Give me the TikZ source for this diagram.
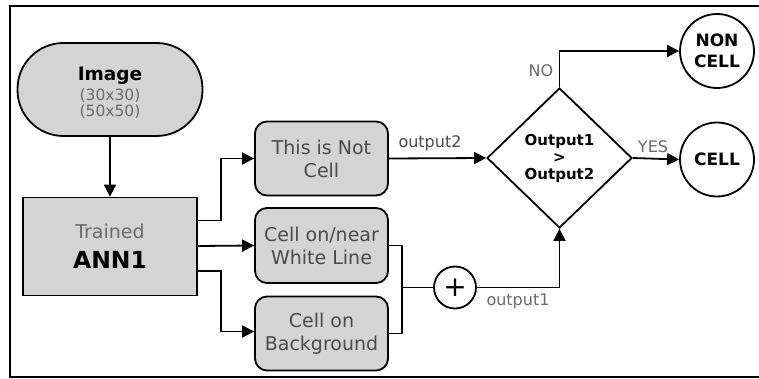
\documentclass[tikz,border=0pt]{standalone}
\usepackage{fontspec}
\setmainfont{DejaVu Sans}
\usetikzlibrary{shapes.geometric,arrows.meta}
\definecolor{boxgray}{HTML}{D4D4D4}
\definecolor{labgray}{HTML}{6A6A6A}
\definecolor{textgray}{HTML}{4A4A4A}
\newcommand{\fixedlines}{\setlength{\lineskiplimit}{-20pt}}
\tikzset{
  line/.style={line width=1.8pt},
  arr/.style={line, -{Triangle[length=12pt,width=12pt]}},
  box/.style={draw, line width=1.8pt, fill=boxgray, inner sep=0pt, align=center},
  rbox/.style={box, rounded corners=12pt, minimum width=133pt, minimum height=74pt,
    font=\fontsize{19}{23}\selectfont, text=textgray},
  endc/.style={draw, circle, line width=1.8pt, minimum size=74pt, inner sep=0pt,
    align=center, font=\bfseries\fontsize{17}{21}\selectfont},
  lab/.style={text=labgray, inner sep=0pt, font=\fontsize{16}{18}\selectfont}
}
\begin{document}
\begin{tikzpicture}[x=1pt, y=-1pt]
\useasboundingbox (0,0) rectangle (759,379);
% outer frame (its right edge lies past the page)
\draw[line width=2.4pt] (10,6) rectangle (775,377);

% input and network
\node[box, rounded corners=46pt, minimum width=185pt, minimum height=93pt,
  font={\fontsize{15.5}{15.5}\selectfont\fixedlines}, text=labgray] (img) at (110,89.5)
  {\rule{0pt}{20pt}{\bfseries\fontsize{18.5}{15}\selectfont\color{black} Image}\\[5pt]
   (30x30)\\
   (50x50)};
\node[box, minimum width=174pt, minimum height=98pt,
  font=\fontsize{19}{30}\selectfont] (ann) at (110,246.5)
  {{\color{labgray}Trained}\\
   {\bfseries\fontsize{23.5}{30}\selectfont ANN1}};

% class outputs
\node[rbox] (b1) at (321.5,158.5) {This is Not\\Cell};
\node[rbox, minimum height=75pt] (b2) at (321.5,245.5) {Cell on/near\\White Line};
\node[rbox] (b3) at (321.5,333.5) {Cell on\\Background};

% sum and decision
\node[draw, circle, line width=1.8pt, minimum size=42pt, inner sep=0pt,
  font=\fontsize{28}{28}\selectfont] (plus) at (455,287.5) {+};
\node[draw, diamond, line width=1.8pt, minimum width=145pt, minimum height=140pt,
  inner sep=0pt, align=center, font=\bfseries\fontsize{15}{17}\selectfont] (dia) at (559.5,158)
  {Output1\\>\\Output2};
\node[endc] (noncell) at (717,51) {NON\\CELL};
\node[endc] (cell) at (717,159.5) {CELL};

% connectors
\draw[arr] (img.south) -- (ann.north);
\draw[arr] ([yshift=26pt]ann.east) -- ++(23pt,0) |- (b1.west);
\draw[arr] ([yshift=0.5pt]ann.east) -- (b2.west);
\draw[arr] ([yshift=-24.5pt]ann.east) -- ++(23pt,0) |- ([yshift=2pt]b3.west);
\coordinate (join) at (401,287.5);
\draw[line] (b2.east) -- ++(13pt,0) |- (b3.east);
\draw[line] (join) -- (plus.west);
\draw[arr] (plus.east) -| (dia.south);
\draw[arr] (b1.east) -- (dia.west);
\draw[arr] (dia.north) |- (noncell.west);
\draw[arr] (dia.east) -- (cell.west);

% labels
\node[lab, text=textgray] (l2) at (430,143) {output2};
\node[lab] (l1) at (518,301) {output1};
\node[lab] (lno) at (541,71) {NO};
\node[lab] (lyes) at (653,147) {YES};
\end{tikzpicture}
\end{document}
